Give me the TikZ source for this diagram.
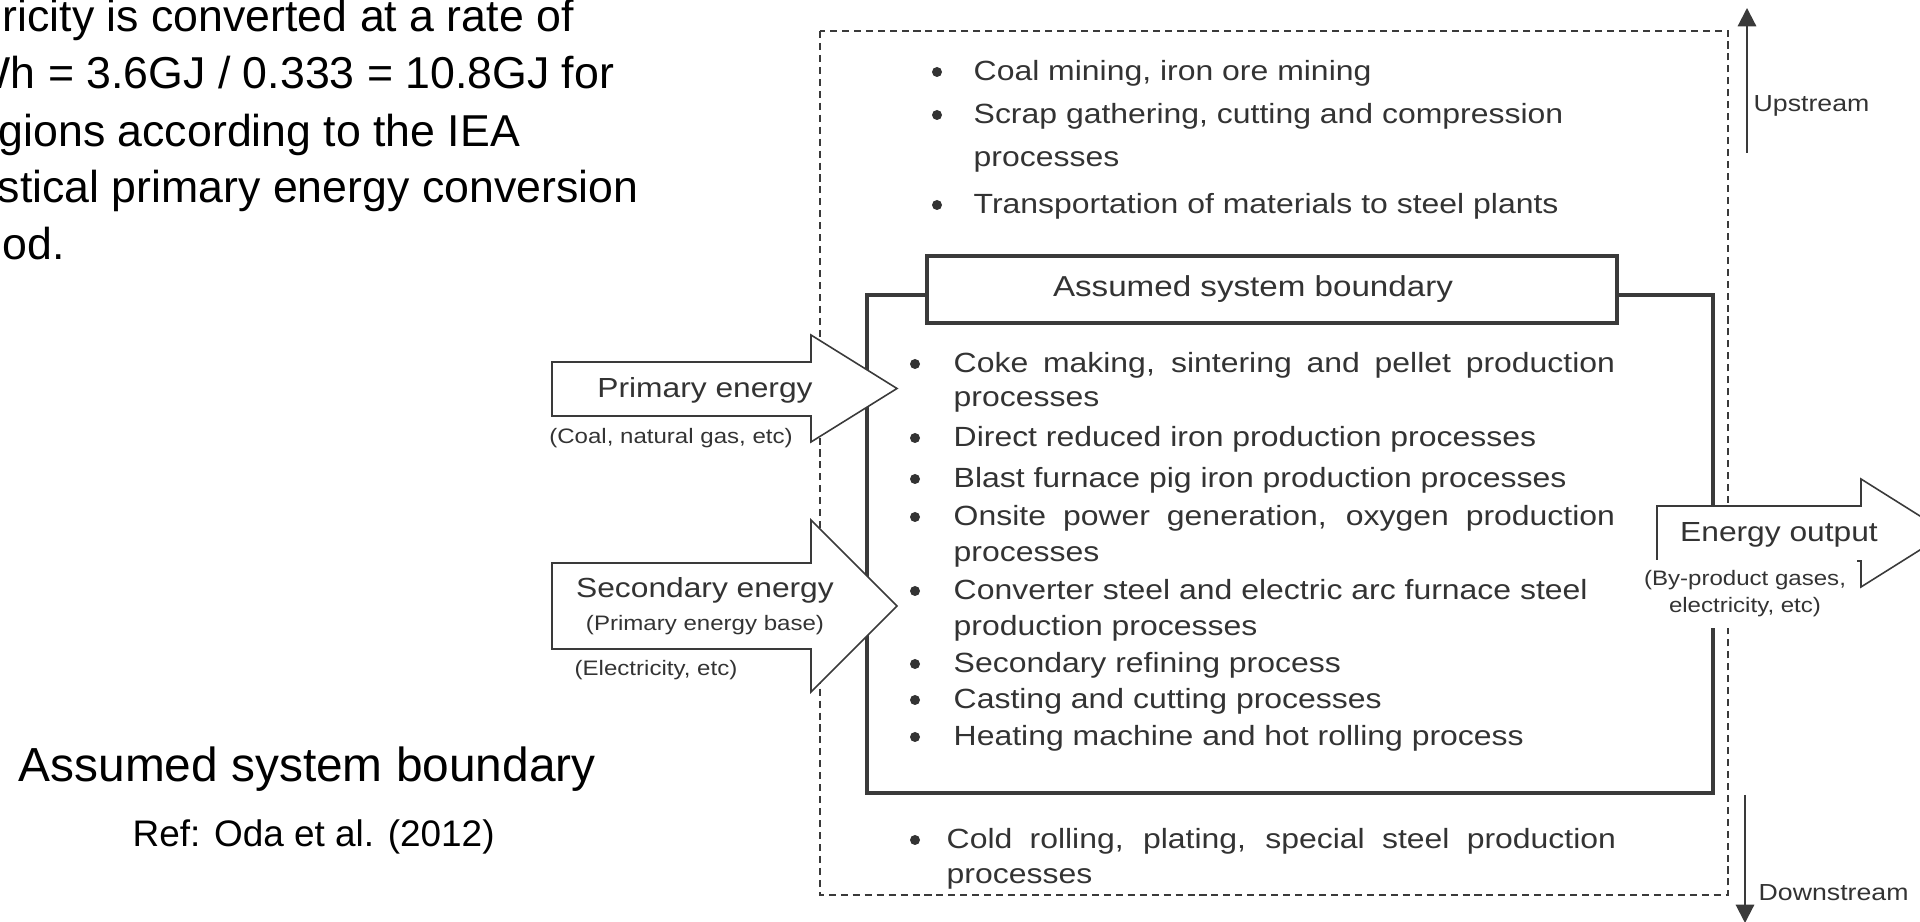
\documentclass[tikz,border=0pt]{standalone}
\usepackage{fontspec}
\setmainfont{Liberation Sans}
\newfontfamily\diafont{Liberation Sans}[FakeStretch=1.15]
\usetikzlibrary{arrows.meta}
\definecolor{ink}{HTML}{333333}
\definecolor{rim}{HTML}{3A3A3A}

\begin{document}
\begin{tikzpicture}[x=0.01cm,y=-0.01cm,
    slide/.style={anchor=base west,inner sep=0pt,font=\fontsize{12.7}{15}\selectfont},
    item/.style={anchor=base west,inner sep=0pt,text=ink,font=\diafont\fontsize{7.9}{9}\selectfont},
    bulletdot/.style={circle,fill=ink,inner sep=0pt,minimum size=0.1cm},
    note/.style={anchor=base,inner sep=0pt,text=ink,font=\diafont\fontsize{5.95}{7.7}\selectfont},
    energy/.style={anchor=base,inner sep=0pt,text=ink,font=\diafont\fontsize{7.85}{9}\selectfont},
    streamtext/.style={anchor=base west,inner sep=0pt,text=ink,font=\diafont\fontsize{6.6}{8}\selectfont},
    bigarrow/.style={draw=rim,fill=white,line width=0.45pt},
    flow/.style={rim,line width=0.6pt,-{Triangle[width=5.2pt,length=5.2pt]}},
    boundary/.style={rim,line width=1.1pt},
    titlebox/.style={draw=rim,line width=1.3pt,fill=white,minimum width=6.9cm,minimum height=0.67cm,inner sep=0pt}]

    \useasboundingbox (0,0) rectangle (1920,922);
    \clip (0,0) rectangle (1920,922);

    % text left on the slide
    \node[slide] (t1) at (2,32) {ricity is converted at a rate of};
    \node[slide] (t2) at (-32,89) {Wh = 3.6GJ / 0.333 = 10.8GJ for};
    \node[slide] (t3) at (-2,147) {gions according to the IEA};
    \node[slide] (t4) at (-3,203) {stical primary energy conversion};
    \node[slide] (t5) at (2,260) {od.};

    \node[slide,font=\fontsize{13.6}{16}\selectfont] (cap) at (18,782) {Assumed system boundary};
    \node[slide,font=\fontsize{10.5}{13}\selectfont] (ref) at (132,847) {Ref: Oda et al. (2012)};

    % upstream / downstream box
    \draw[rim,line width=0.55pt,dash pattern=on 2pt off 1.4pt] (820,31) rectangle (1728,895);

    \coordinate (upA) at (1747,153);
    \coordinate (upB) at (1747,8);
    \coordinate (dnA) at (1745,795);
    \coordinate (dnB) at (1745,923);
    \draw[flow] (upA) -- (upB);
    \draw[flow] (dnA) -- (dnB);
    \node[streamtext] (up) at (1753,112) {Upstream};
    \node[streamtext] (dn) at (1758,901) {Downstream};

    \foreach \y/\t in {81/{Coal mining, iron ore mining},
                       124/{Scrap gathering, cutting and compression},
                       214/{Transportation of materials to steel plants}}{
        \node[bulletdot] (ud\y) at (937,\y-9) {};
        \node[item] (ut\y) at (973,\y) {\t};
    }
    \node[item] (ut167) at (973,167) {processes};

    % assumed system boundary
    \draw[boundary] (927,295) -- (867,295) |- (1713,793) |- (1617,295);
    \node[titlebox] (tb) at (1272,289.5) {};
    \node[energy,font=\diafont\fontsize{8.2}{10}\selectfont] (tbt) at (1253,297) {Assumed system boundary};

    \foreach \y in {373,447,488,526,600,673,709,746}
        \node[bulletdot] (md\y) at (915,\y-9) {};
    \node[item] (m1) at (953,373) {\makebox[6.61cm][s]{Coke making, sintering and pellet production}};
    \node[item] (m2) at (953,407) {processes};
    \node[item] (m3) at (953,447) {Direct reduced iron production processes};
    \node[item] (m4) at (953,488) {Blast furnace pig iron production processes};
    \node[item] (m5) at (953,526) {\makebox[6.61cm][s]{Onsite power generation, oxygen production}};
    \node[item] (m6) at (953,562) {processes};
    \node[item] (m7) at (953,600) {Converter steel and electric arc furnace steel};
    \node[item] (m8) at (953,636) {production processes};
    \node[item] (m9) at (953,673) {Secondary refining process};
    \node[item] (m10) at (953,709) {Casting and cutting processes};
    \node[item] (m11) at (953,746) {Heating machine and hot rolling process};

    \node[bulletdot] (ld) at (915,840) {};
    \node[item] (l1) at (946,849) {\makebox[6.69cm][s]{Cold rolling, plating, special steel production}};
    \node[item] (l2) at (946,884) {processes};

    % energy in and out
    \draw[bigarrow] (552,362) -- (811,362) -- (811,335) -- (897,388.5) -- (811,442) -- (811,416) -- (552,416) -- cycle;
    \draw[bigarrow] (552,563) -- (811,563) -- (811,520) -- (897,606) -- (811,692) -- (811,649) -- (552,649) -- cycle;
    \draw[bigarrow] (1657,506) -- (1861,506) -- (1861,479) -- (1947,533) -- (1861,587) -- (1861,561) -- (1657,561) -- cycle;

    \node[energy] (pe) at (705,398) {Primary energy};
    \node[note] (pen) at (671,444) {(Coal, natural gas, etc)};
    \node[energy] (se) at (705,598) {Secondary energy};
    \node[note] (seb) at (705,631) {(Primary energy base)};
    \node[note] (sen) at (656,676) {(Electricity, etc)};
    \node[energy] (eo) at (1779,542) {Energy output};
    \node[note,anchor=center,align=center,fill=white,inner sep=3pt] (eon) at (1745,594) {(By-product gases,\\electricity, etc)};
\end{tikzpicture}
\end{document}
